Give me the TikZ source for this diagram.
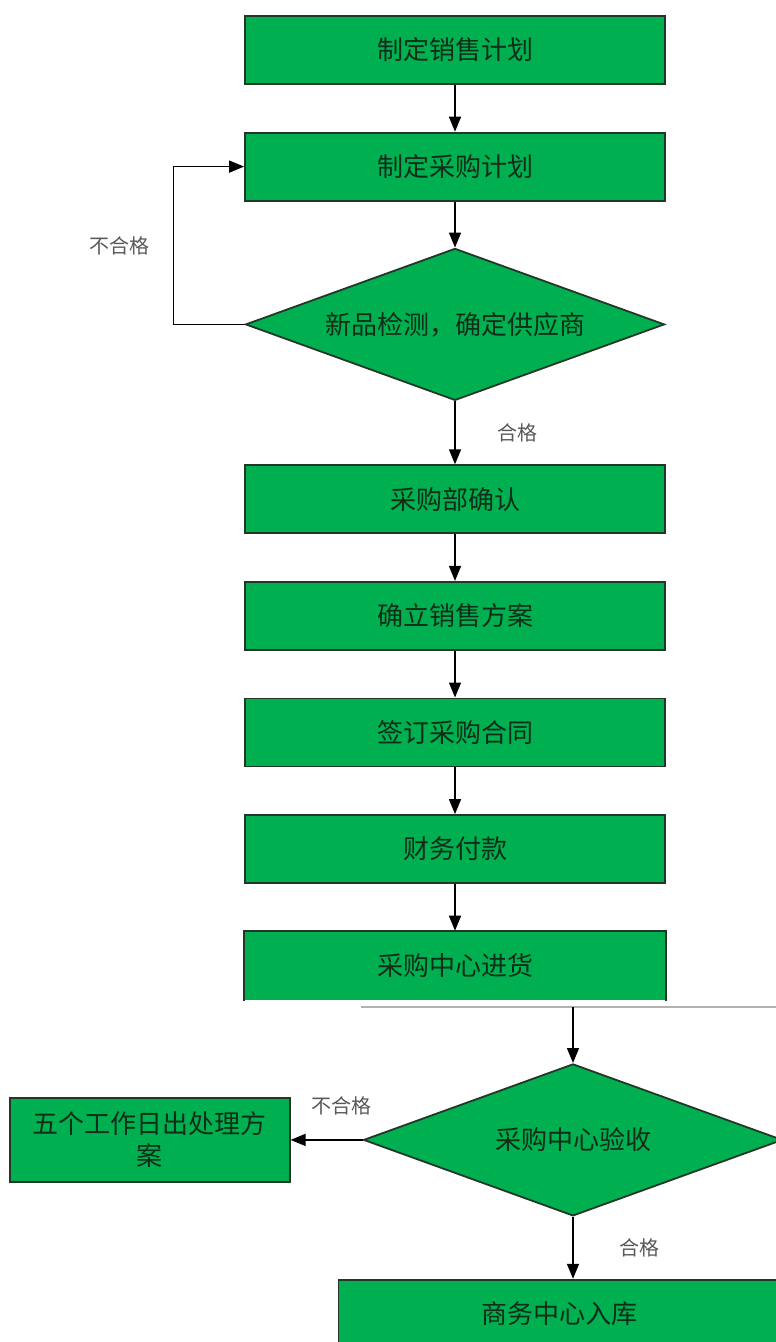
\documentclass[tikz,border=0pt]{standalone}
\usepackage{fontspec}
\setmainfont{Noto Sans CJK SC}
\usetikzlibrary{arrows.meta, positioning, shapes.geometric}
\definecolor{boxgreen}{RGB}{0,176,80}
\definecolor{boxline}{RGB}{35,55,40}
\definecolor{boxtext}{RGB}{15,45,25}

\begin{document}
\begin{tikzpicture}[x=1pt,y=-1pt,>={Triangle[length=15pt,width=12pt]},line width=1.5pt,node distance=46.8pt,
		stepbox/.style={rectangle,draw=boxline,line width=1.8pt,fill=boxgreen,text=boxtext,minimum width=420pt,minimum height=68pt,align=center,font=\fontsize{26}{32}\selectfont},
		check/.style={diamond,aspect=2.76,draw=boxline,line width=1.8pt,fill=boxgreen,text=boxtext,minimum width=419pt,minimum height=152pt,inner sep=0pt,font=\fontsize{26}{32}\selectfont},
		lbl/.style={inner sep=0pt,text=black!65,font=\fontsize{20}{22}\selectfont}]
		\clip (0,0) rectangle (776,1342);
		\fill[white] (0,0) rectangle (776,1342);

		\node[stepbox]          (sales)    at (455,50)           {制定销售计划};
		\node[stepbox]          (plan)     [below=of sales]      {制定采购计划};
		\node[check]            (test)     [below=46pt of plan]  {新品检测，确定供应商};
		\node[stepbox]          (confirm)  [below=63pt of test]  {采购部确认};
		\node[stepbox]          (scheme)   [below=of confirm]    {确立销售方案};
		\node[stepbox]          (contract) [below=of scheme]     {签订采购合同};
		\node[stepbox]          (pay)      [below=of contract]   {财务付款};
		\node[stepbox,draw=none] (stock)   [below=of pay]        {采购中心进货};
		\draw[boxline,line width=1.8pt] (stock.south west) |- (stock.north) -| (stock.south east);
		\fill[white] (stock.south west) rectangle ([yshift=-9pt]stock.south east);

		\draw[gray!60,line width=1.2pt] (361,1007) -- (776,1007);
		\coordinate (cut) at (573,1007);
		\node[check]            (accept)   [below=56pt of cut]   {采购中心验收};
		\node[stepbox,minimum width=280pt,minimum height=84pt,inner sep=0pt] (redo) [left=72pt of accept] {五个工作日出处理方\\案};
		\node[stepbox,minimum width=441pt] (store) [below=62pt of accept,xshift=-14pt] {商务中心入库};

		\path[->](sales) edge (plan);
		\path[->](plan) edge (test);
		\draw[->](test.west) -- ++(-71,0) |- node[lbl,pos=0.25,left=23pt] {不合格} (plan.west);
		\path[->](test) edge node[lbl,right=42pt] {合格} (confirm);
		\path[->](confirm) edge (scheme);
		\path[->](scheme) edge (contract);
		\path[->](contract) edge (pay);
		\path[->](pay) edge (stock);
		\path[->](cut) edge (accept);
		\path[->](accept) edge node[lbl,above=24pt,xshift=15pt] {不合格} (redo);
		\path[->](accept.south) edge node[lbl,right=46pt] {合格} (accept.south |- store.north);
	\end{tikzpicture}
\end{document}
